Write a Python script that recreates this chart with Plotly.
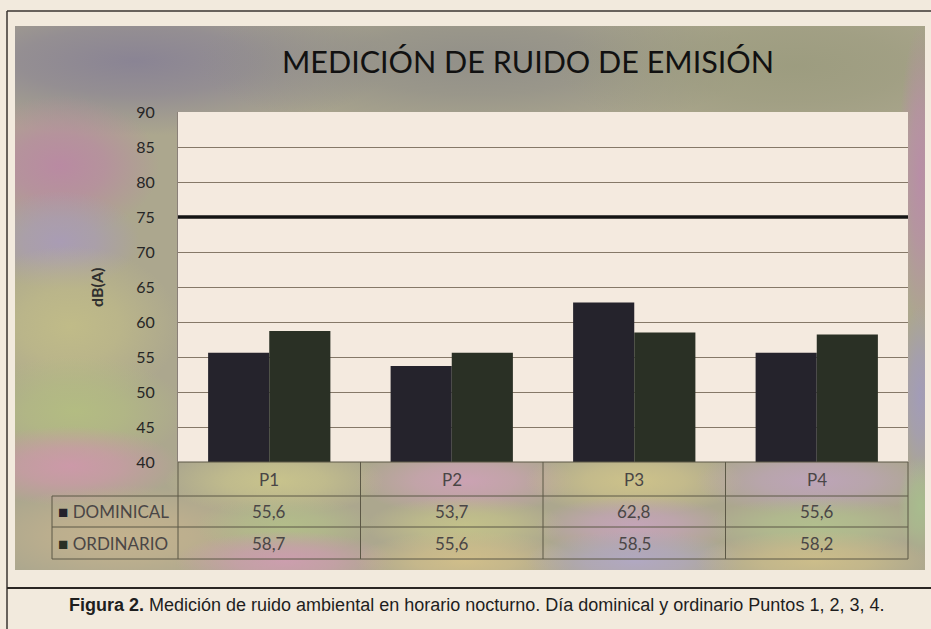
import base64
import plotly.graph_objects as go

# ---------------- data ----------------
categories = ["P1", "P2", "P3", "P4"]
series_names = ["DOMINICAL", "ORDINARIO"]
dominical = [55.6, 53.7, 62.8, 55.6]
ordinario = [58.7, 55.6, 58.5, 58.2]
limit_value = 75
y_ticks = [40, 45, 50, 55, 60, 65, 70, 75, 80, 85, 90]
title_text = "MEDICIÓN DE RUIDO DE EMISIÓN"
y_title = "dB(A)"
caption_bold = "Figura 2."
caption_rest = " Medición de ruido ambiental en horario nocturno. Día dominical y ordinario Puntos 1, 2, 3, 4."

# ---------------- styling ----------------
W, H = 931, 629
COL_DOM = "#25232c"
COL_ORD = "#2a3025"
PAGE_BG = "#f2eadd"
PLOT_BG = "#f4eadf"
GRID = "#857868"
TABLE_LINE = "#5c5846"
TXT = "#262626"


def px(xp):
    return xp / W


def py(yp):
    return 1 - yp / H


# plot area in pixels
PL, PR, PT, PB = 178, 908, 112, 462
# table rows (pixels)
ROW_Y = [462, 496, 527, 559]
TABLE_LEFT = 52
# gradient box
BX, BY, BR, BB = 15, 26, 925, 570

# decorative scanned-gradient background as svg (origin at BX, BY)
bw, bh = BR - BX, BB - BY
blobs = [
    # cx, cy, rx, ry, color, opacity
    (120, 35, 260, 75, "#8a8494", 1.0),
    (460, 35, 280, 75, "#8f8d88", 0.9),
    (780, 40, 240, 80, "#9b9b7e", 0.9),
    (45, 140, 100, 70, "#b98aa2", 1.0),
    (45, 215, 80, 50, "#a99cb4", 1.0),
    (55, 300, 110, 80, "#c0bb88", 1.0),
    (60, 385, 110, 55, "#b3bc82", 1.0),
    (55, 440, 110, 40, "#cc99a8", 1.0),
    (110, 510, 150, 50, "#c3b28e", 1.0),
    (260, 455, 110, 35, "#c8c38c", 1.0),
    (270, 500, 90, 30, "#b3bd8a", 1.0),
    (270, 535, 110, 30, "#cc9eae", 1.0),
    (450, 455, 110, 35, "#cba2b3", 1.0),
    (450, 500, 100, 30, "#c3c18a", 1.0),
    (450, 535, 110, 30, "#d0be8a", 1.0),
    (620, 455, 110, 35, "#cdc28a", 1.0),
    (620, 500, 100, 30, "#c4a4b8", 1.0),
    (620, 535, 110, 30, "#b1a8c2", 1.0),
    (800, 455, 120, 35, "#bda4b8", 1.0),
    (800, 500, 110, 30, "#b2bf8e", 1.0),
    (800, 535, 120, 30, "#ccbd8a", 1.0),
    (905, 150, 22, 150, "#b88ea6", 1.0),
    (905, 370, 22, 90, "#a29cb8", 1.0),
    (905, 480, 22, 50, "#a8bc8e", 1.0),
]
defs = []
shapes_svg = []
for i, (cx, cy, rx, ry, c, op) in enumerate(blobs):
    defs.append(
        f'<radialGradient id="g{i}" cx="0.5" cy="0.5" r="0.5">'
        f'<stop offset="0" stop-color="{c}" stop-opacity="{op}"/>'
        f'<stop offset="0.45" stop-color="{c}" stop-opacity="{op * 0.7}"/>'
        f'<stop offset="1" stop-color="{c}" stop-opacity="0"/></radialGradient>'
    )
    shapes_svg.append(
        f'<ellipse cx="{cx}" cy="{cy}" rx="{rx}" ry="{ry}" fill="url(#g{i})"/>'
    )
plot_rect = (f'<rect x="{PL - BX}" y="{PT - BY}" width="{PR - PL}" height="{PB - PT}" '
             f'fill="{PLOT_BG}"/>')
svg = (
    f'<svg xmlns="http://www.w3.org/2000/svg" width="{bw}" height="{bh}" '
    f'viewBox="0 0 {bw} {bh}"><defs>{"".join(defs)}</defs>'
    f'<rect width="{bw}" height="{bh}" fill="#aca78e"/>{"".join(shapes_svg)}{plot_rect}</svg>'
)
svg_uri = "data:image/svg+xml;base64," + base64.b64encode(svg.encode()).decode()

fig = go.Figure()
fig.add_trace(go.Bar(name=series_names[0], x=categories, y=dominical,
                     marker=dict(color=COL_DOM, line=dict(width=0))))
fig.add_trace(go.Bar(name=series_names[1], x=categories, y=ordinario,
                     marker=dict(color=COL_ORD, line=dict(width=0))))

shapes = []
# outer frame lines (scanned page)
shapes.append(dict(type="line", xref="paper", yref="paper", x0=px(7), x1=1, y0=py(11), y1=py(11),
                   line=dict(color="#3a3530", width=1.5)))
shapes.append(dict(type="line", xref="paper", yref="paper", x0=px(7), x1=px(7), y0=py(11), y1=0,
                   line=dict(color="#3a3530", width=1.5)))
shapes.append(dict(type="line", xref="paper", yref="paper", x0=px(7), x1=1, y0=py(588), y1=py(588),
                   line=dict(color="#2a2622", width=2)))
# limit line
shapes.append(dict(type="line", xref="paper", yref="y", x0=px(PL), x1=px(PR), y0=limit_value, y1=limit_value,
                   line=dict(color="#141414", width=3.5)))
# table horizontal lines
for k, yy in enumerate(ROW_Y):
    x0 = PL if k == 0 else TABLE_LEFT
    shapes.append(dict(type="line", xref="paper", yref="paper", x0=px(x0), x1=px(PR),
                       y0=py(yy), y1=py(yy), line=dict(color=TABLE_LINE, width=1)))
# table vertical lines
col_w = (PR - PL) / len(categories)
for j in range(len(categories) + 1):
    xx = PL + j * col_w
    shapes.append(dict(type="line", xref="paper", yref="paper", x0=px(xx), x1=px(xx),
                       y0=py(ROW_Y[0]), y1=py(ROW_Y[-1]), line=dict(color=TABLE_LINE, width=1)))
shapes.append(dict(type="line", xref="paper", yref="paper", x0=px(TABLE_LEFT), x1=px(TABLE_LEFT),
                   y0=py(ROW_Y[1]), y1=py(ROW_Y[-1]), line=dict(color=TABLE_LINE, width=1)))

annotations = []
tfont = dict(family="Lato, Open Sans, sans-serif", size=17, color="#4a4646")
for c in categories:
    annotations.append(dict(x=c, xref="x", y=py((ROW_Y[0] + ROW_Y[1]) / 2), yref="paper",
                            text=c, showarrow=False, font=tfont, xanchor="center", yanchor="middle"))
for r, (name, vals, col) in enumerate([(series_names[0], dominical, COL_DOM),
                                       (series_names[1], ordinario, COL_ORD)]):
    ymid = py((ROW_Y[r + 1] + ROW_Y[r + 2]) / 2)
    annotations.append(dict(x=px(TABLE_LEFT + 4), xref="paper", y=ymid, yref="paper",
                            text=f'<span style="color:{col}">■</span> {name}',
                            showarrow=False, font=tfont, xanchor="left", yanchor="middle"))
    for c, v in zip(categories, vals):
        annotations.append(dict(x=c, xref="x", y=ymid, yref="paper",
                                text=f"{v:.1f}".replace(".", ","), showarrow=False,
                                font=tfont, xanchor="center", yanchor="middle"))
annotations.append(dict(x=px(96), xref="paper", y=py(288), yref="paper", text=f"<b>{y_title}</b>",
                        textangle=-90, showarrow=False,
                        font=dict(family="Lato, sans-serif", size=16, color="#2e2e2e"),
                        xanchor="center", yanchor="middle"))
annotations.append(dict(x=px(528), xref="paper", y=py(61), yref="paper", text=title_text,
                        showarrow=False, font=dict(family="Lato, sans-serif", size=30.5, color="#111111"),
                        xanchor="center", yanchor="middle"))
annotations.append(dict(x=px(476), xref="paper", y=py(605), yref="paper",
                        text=f"<b>{caption_bold}</b>{caption_rest}", showarrow=False,
                        font=dict(family="Liberation Sans, Arial, sans-serif", size=18, color="#1e1e1e"),
                        xanchor="center", yanchor="middle"))

fig.update_layout(
    template="none",
    width=W, height=H,
    margin=dict(l=0, r=0, t=0, b=0, pad=0, autoexpand=False),
    autosize=False,
    paper_bgcolor=PAGE_BG,
    plot_bgcolor=PLOT_BG,
    barmode="group",
    bargap=0.33,
    bargroupgap=0,
    showlegend=False,
    xaxis=dict(domain=[px(PL), px(PR)], range=[-0.5, 3.5], showticklabels=False,
               showgrid=False, zeroline=False, ticks="", automargin=False, showline=False),
    yaxis=dict(domain=[py(PB), py(PT)], range=[40, 90], tickvals=y_ticks,
               showgrid=True, gridcolor=GRID, gridwidth=1, zeroline=False,
               showline=True, linecolor="#8a8078", linewidth=1, ticks="",
               ticklabelstandoff=19, automargin=False,
               tickfont=dict(family="Lato, sans-serif", size=16, color=TXT)),
    shapes=shapes,
    annotations=annotations,
    images=[dict(source=svg_uri, xref="paper", yref="paper", x=px(BX), y=py(BY),
                 sizex=px(bw), sizey=bh / H, sizing="stretch", layer="below",
                 xanchor="left", yanchor="top")],
)

fig.write_html(
    "out.html",
    config={"displayModeBar": False},
    post_script="document.body.style.margin='0';document.body.style.padding='0';",
)
